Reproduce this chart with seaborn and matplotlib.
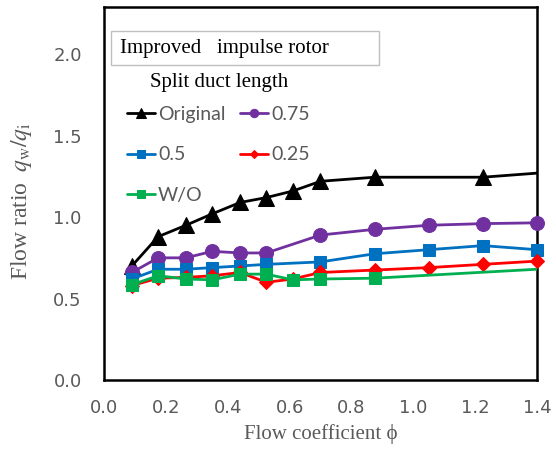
import matplotlib
matplotlib.use("Agg")
import matplotlib.pyplot as plt
from matplotlib.patches import Rectangle
import seaborn as sns
import pandas as pd
import numpy as np

# Data
phi_orig = [0.09, 0.175, 0.265, 0.35, 0.44, 0.525, 0.61, 0.70, 0.875, 1.225, 1.40]
q_orig = [0.70, 0.88, 0.95, 1.02, 1.09, 1.12, 1.16, 1.22, 1.245, 1.245, 1.27]
phi_075 = [0.09, 0.175, 0.265, 0.35, 0.44, 0.525, 0.70, 0.875, 1.05, 1.225, 1.40]
q_075 = [0.66, 0.75, 0.75, 0.79, 0.78, 0.78, 0.89, 0.925, 0.95, 0.96, 0.965]
phi_05 = [0.09, 0.175, 0.265, 0.35, 0.44, 0.525, 0.70, 0.875, 1.05, 1.225, 1.40]
q_05 = [0.62, 0.68, 0.68, 0.69, 0.70, 0.71, 0.725, 0.775, 0.80, 0.825, 0.80]
phi_025 = [0.09, 0.175, 0.265, 0.35, 0.44, 0.525, 0.61, 0.70, 0.875, 1.05, 1.225, 1.40]
q_025 = [0.58, 0.625, 0.63, 0.64, 0.66, 0.60, 0.62, 0.66, 0.675, 0.69, 0.71, 0.73]
phi_wo = [0.09, 0.175, 0.265, 0.35, 0.44, 0.525, 0.61, 0.70, 0.875, 1.40]
q_wo = [0.585, 0.64, 0.62, 0.615, 0.65, 0.65, 0.615, 0.62, 0.625, 0.68]

labels = ["Original", "0.75", "0.5", "0.25", "W/O"]
colors = ["#000000", "#7030A0", "#0070C0", "#FF0000", "#00B050"]
markers = ["^", "o", "s", "D", "s"]
msizes = [11, 10, 8.5, 7.5, 8.5]
series = [(phi_orig, q_orig), (phi_075, q_075), (phi_05, q_05), (phi_025, q_025), (phi_wo, q_wo)]
# last points of Original and W/O are line-only (no marker)
marker_counts = [len(phi_orig) - 1, len(phi_075), len(phi_05), len(phi_025), len(phi_wo) - 1]

sns.set_style("white")
plt.rcParams['font.family'] = ['DejaVu Sans']
plt.rcParams['mathtext.fontset'] = 'stix'

fig = plt.figure(figsize=(5.56, 4.5), dpi=100)
ax = fig.add_axes([104/556, 1 - 380/450, (537-104)/556, (380-7)/450])

for (x, y), lab, c, m, ms, nm in zip(series, labels, colors, markers, msizes, marker_counts):
    df = pd.DataFrame({"phi": x, "q": y})
    sns.lineplot(data=df, x="phi", y="q", ax=ax, color=c, linewidth=2.0,
                 marker=m, markersize=ms, markeredgecolor=c, markerfacecolor=c,
                 markevery=list(range(nm)), label=lab,
                 clip_on=False if lab not in ("Original", "W/O") else True, zorder=3)

ax.set_xlim(0, 1.4)
ax.set_ylim(0, 2.29)
xt = np.arange(0, 1.41, 0.2)
ax.set_xticks(xt)
ax.set_yticks([0, 0.5, 1.0, 1.5, 2.0])
ax.set_xticklabels([f"{v:.1f}" for v in xt])
ax.set_yticklabels(["0.0", "0.5", "1.0", "1.5", "2.0"])
ax.tick_params(axis='both', direction='in', length=5, width=1.5, colors='black',
               labelcolor='#595959', labelsize=13)
ax.tick_params(axis='y', pad=16)
ax.tick_params(axis='x', pad=14)
for s in ax.spines.values():
    s.set_visible(True)
    s.set_color('black')
    s.set_linewidth(1.8)

ax.set_xlabel("Flow coefficient \u03d5", family='Liberation Serif', fontsize=15, color='#595959', labelpad=5)
ax.set_ylabel("Flow ratio $\\;q_\\mathrm{w}/q_\\mathrm{i}$", family='Liberation Serif', fontsize=17,
              color='#595959')
ax.yaxis.set_label_coords((34 - 104) / 433, (380 - 201) / 373)

h, l = ax.get_legend_handles_labels()
order = [0, 2, 4, 1, 3]
leg = ax.legend([h[i] for i in order], [l[i] for i in order], ncol=2, loc='upper left',
                bbox_to_anchor=(23/433, 1 - 99/373), frameon=False, borderpad=0, borderaxespad=0,
                handlelength=1.45, handletextpad=0.15, columnspacing=0.75,
                labelspacing=1.2, labelcolor='#595959', markerscale=0.6,
                prop={'family': 'Lato', 'size': 14})

# title box
ax.add_patch(Rectangle((7/433, 1 - 58/373), (379-111)/433, 34/373, transform=ax.transAxes,
                       fc='white', ec='#BFBFBF', lw=1, zorder=4))
ax.text(16/433, 1 - 41/373, "Improved   impulse rotor", transform=ax.transAxes, family='Liberation Serif',
        fontsize=15, color='black', va='center', ha='left', zorder=5)
ax.text(46/433, 1 - 76/373, "Split duct length", transform=ax.transAxes, family='Liberation Serif',
        fontsize=15, color='black', va='center', ha='left')

fig.savefig("out.png", dpi=100)
